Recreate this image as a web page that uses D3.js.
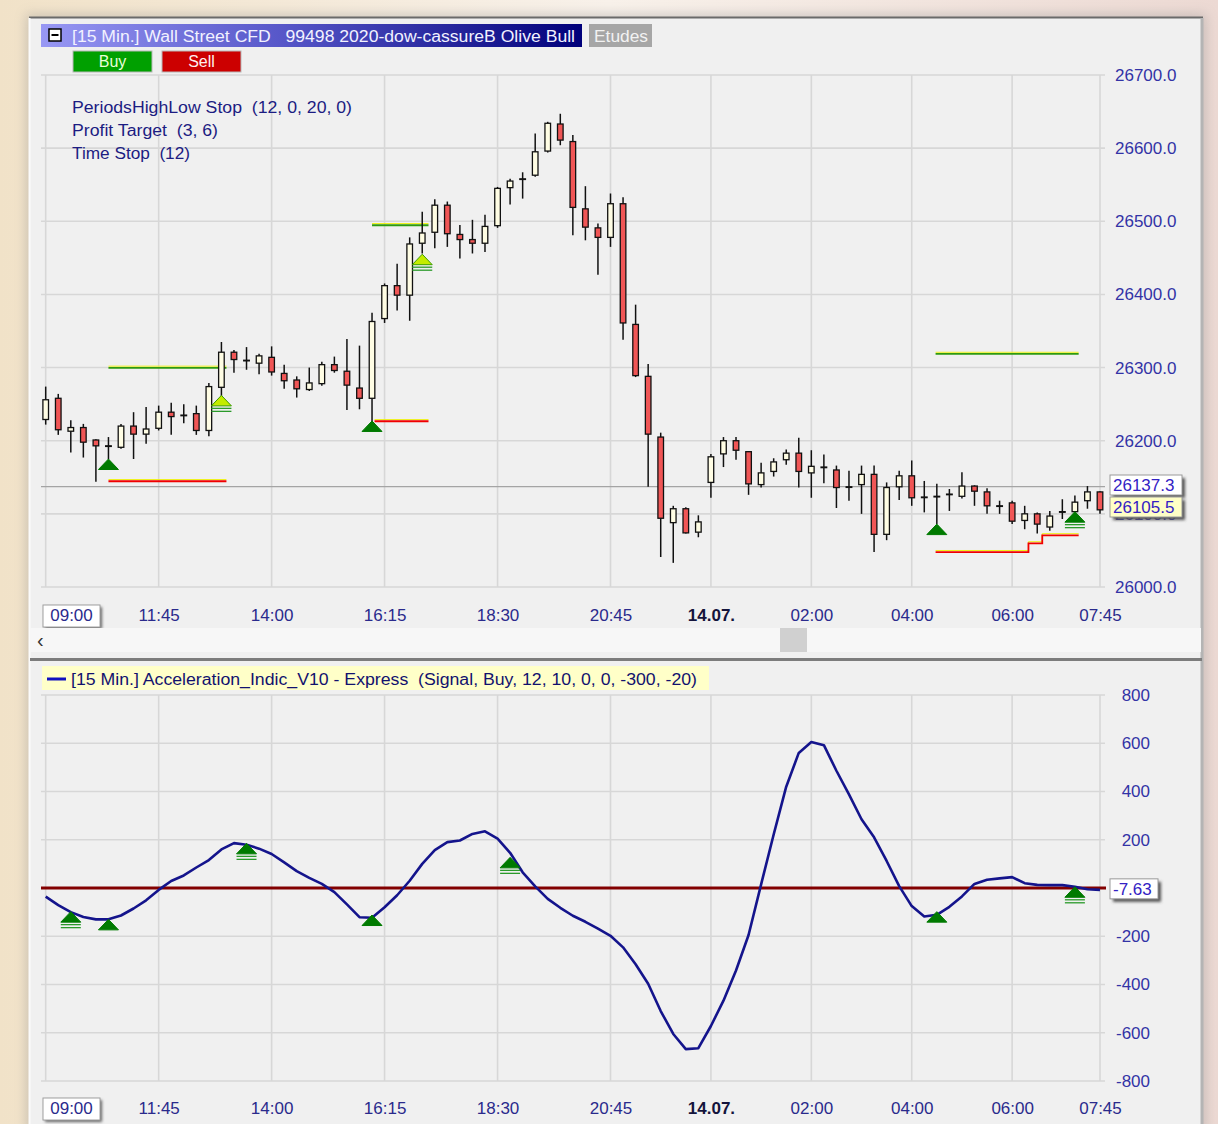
<!DOCTYPE html>
<html>
<head>
<meta charset="utf-8">
<script src="https://cdn.jsdelivr.net/npm/d3@7"></script>
<style>
  body { margin: 0; background: #f7f0e8; }
  svg { display: block; font-family: "Liberation Sans", Arial, sans-serif; }
</style>
</head>
<body>
<svg id="chart" width="1218" height="1124"></svg>
<script>
// 15 min bars, Wall Street CFD
const opens  = [26229,26258,26213,26218,26201,26193,26191,26220,26209,26217,26239,26235,26237,26214,26273,26321,26310,26306,26314,26292,
                26283,26270,26278,26304,26295,26272,26258,26367,26412,26399,26470,26485,26522,26482,26475,26470,26494,26546,26558,26563,
                26596,26633,26609,26517,26491,26478,26524,26359,26288,26205,26088,26107,26075,26143,26182,26200,26185,26140,26158,26174,
                26183,26156,26164,26160,26137,26140,26154,26072,26137,26152,26123,26124,26127,26124,26138,26130,26111,26115,26091,26100,
                26082,26103,26103,26118,26130];
const highs  = [26274,26264,26228,26223,26202,26205,26223,26239,26246,26248,26252,26250,26248,26279,26335,26324,26328,26319,26329,26304,
                26288,26300,26308,26315,26339,26330,26375,26415,26442,26478,26513,26530,26527,26495,26502,26509,26547,26558,26567,26620,
                26636,26647,26618,26548,26497,26538,26533,26386,26305,26211,26111,26109,26098,26182,26205,26205,26185,26170,26176,26188,
                26204,26187,26181,26166,26159,26166,26166,26143,26159,26173,26145,26141,26134,26157,26139,26135,26118,26118,26111,26102,
                26104,26120,26125,26138,26131];
const lows   = [26222,26208,26184,26177,26144,26175,26189,26175,26196,26214,26208,26224,26208,26206,26255,26293,26297,26291,26289,26271,
                26259,26268,26275,26293,26242,26243,26214,26361,26378,26364,26456,26463,26465,26449,26456,26458,26491,26523,26531,26561,
                26594,26604,26481,26474,26427,26465,26338,26287,26137,26041,26033,26073,26068,26122,26164,26174,26126,26136,26151,26167,
                26136,26122,26142,26108,26118,26100,26048,26064,26119,26111,26102,26086,26104,26121,26111,26100,26100,26086,26079,26073,
                26077,26093,26102,26107,26100];
const closes = [26256,26215,26218,26198,26193,26193,26220,26209,26216,26239,26233,26235,26214,26274,26321,26311,26310,26316,26294,26282,
                26271,26279,26304,26296,26276,26258,26363,26412,26399,26469,26484,26522,26483,26475,26470,26493,26545,26555,26558,26595,
                26634,26611,26519,26492,26478,26524,26361,26289,26209,26094,26107,26074,26089,26178,26200,26187,26141,26156,26171,26183,
                26158,26165,26164,26136,26137,26154,26072,26136,26152,26122,26123,26124,26127,26138,26131,26111,26111,26090,26100,26086,
                26097,26103,26116,26130,26105.5];

// Acceleration_Indic_V10 values, one per bar
const accel = [-36,-71,-100,-120,-130,-130,-114,-85,-51,-8,
               29,52,85,116,160,186,179,163,141,106,
               70,42,17,-17,-68,-121,-123,-80,-30,30,
               100,157,190,197,224,235,205,146,65,7,
               -45,-82,-115,-140,-168,-198,-246,-316,-397,-510,
               -605,-668,-664,-572,-467,-342,-195,15,222,420,
               560,605,592,486,388,285,210,112,8,-75,
               -118,-111,-78,-35,17,34,40,45,20,13,
               12,12,5,-5,-7.63];

const timeTicks  = [0, 9, 18, 27, 36, 45, 53, 61, 69, 77, 84];
const timeLabels = ['09:00','11:45','14:00','16:15','18:30','20:45','14.07.','02:00','04:00','06:00','07:45'];
const priceTicks = [26000, 26100, 26200, 26300, 26400, 26500, 26600, 26700];
const accelTicks = [-800, -600, -400, -200, 0, 200, 400, 600, 800];

// strategy signals on price panel: bar, price at arrow tip, kind
const sigBars   = [5, 14, 26, 30, 71, 82];
const sigPrices = [26175, 26262, 26227, 26455, 26086, 26103];
const sigKinds  = ['g', 'l2', 'g', 'l2', 'g', 'g2'];
// signals on indicator panel
const aSigBars   = [2, 5, 16, 26, 37, 71, 82];
const aSigValues = [-98, -130, 185, -112, 127, -98, 5];
const aSigKinds  = ['g2', 'g', 'g2', 'g', 'g2', 'g', 'g2'];

// profit target and stop lines: [bar, price] steps
const targets = [[[5, 26300], [14.4, 26300]], [[26, 26495], [30.5, 26495]], [[70.9, 26319], [82.3, 26319]]];
const stops   = [[[5, 26145], [14.4, 26145]], [[26.2, 26227], [30.5, 26227]],
                 [[70.9, 26048], [78.3, 26060], [79.4, 26071], [82.3, 26071]]];

const lastPrice = 26137.3;
const lastAccel = -7.63;

const svg = d3.select('#chart');
const defs = svg.append('defs');

const bgGrad = defs.append('linearGradient').attr('id', 'bg').attr('x1', 0).attr('x2', 1);
bgGrad.append('stop').attr('offset', 0).attr('stop-color', '#f1e2c8');
bgGrad.append('stop').attr('offset', 0.5).attr('stop-color', '#f8f1ea');
bgGrad.append('stop').attr('offset', 1).attr('stop-color', '#ecd9d3');

const titleGrad = defs.append('linearGradient').attr('id', 'title').attr('x1', 0).attr('x2', 1);
titleGrad.append('stop').attr('offset', 0).attr('stop-color', '#9898f4');
titleGrad.append('stop').attr('offset', 0.45).attr('stop-color', '#5656c8');
titleGrad.append('stop').attr('offset', 1).attr('stop-color', '#00007a');

const blur = defs.append('filter').attr('id', 'blur').attr('x', -0.2).attr('y', -0.2).attr('width', 1.4).attr('height', 1.4);
blur.append('feGaussianBlur').attr('stdDeviation', 1.6);
const wblur = defs.append('filter').attr('id', 'wblur').attr('x', -0.05).attr('y', -0.05).attr('width', 1.1).attr('height', 1.1);
wblur.append('feGaussianBlur').attr('stdDeviation', 6);

// page + window
svg.append('rect').attr('width', 1218).attr('height', 1124).attr('fill', 'url(#bg)');
svg.append('rect').attr('x', 26).attr('y', 14).attr('width', 1180).attr('height', 1120)
   .attr('fill', '#888').attr('opacity', 0.35).attr('filter', 'url(#wblur)');
svg.append('rect').attr('x', 29).attr('y', 17).attr('width', 1174).attr('height', 1110).attr('fill', '#f0f0f0');
svg.append('line').attr('x1', 29).attr('x2', 1203).attr('y1', 17.5).attr('y2', 17.5).attr('stroke', '#6a6a6a').attr('stroke-width', 2);
svg.append('line').attr('x1', 29.5).attr('x2', 29.5).attr('y1', 18).attr('y2', 1124).attr('stroke', '#fbfbfb').attr('stroke-width', 2);
svg.append('line').attr('x1', 1202).attr('x2', 1202).attr('y1', 18).attr('y2', 1124).attr('stroke', '#b4b4b4').attr('stroke-width', 3);

// scales
const x = d3.scaleLinear().domain([0, 84]).range([45.7, 1100]);
const yP = d3.scaleLinear().domain([26000, 26700]).range([587, 75]);
const yA = d3.scaleLinear().domain([-800, 800]).range([1081, 695]);

function drawGrid(yScale, yVals, top, bottom) {
  const g = svg.append('g');
  g.selectAll('.hg').data(yVals).join('line')
    .attr('x1', 41).attr('x2', 1105)
    .attr('y1', d => yScale(d)).attr('y2', d => yScale(d))
    .attr('stroke', '#d7d7d7').attr('stroke-width', 1.6);
  g.selectAll('.vg').data(timeTicks).join('line')
    .attr('x1', d => x(d)).attr('x2', d => x(d))
    .attr('y1', top).attr('y2', bottom)
    .attr('stroke', '#d7d7d7').attr('stroke-width', 1.6);
}

function timeAxis(yPos) {
  const ax = svg.append('g').attr('transform', `translate(0,${yPos})`)
    .call(d3.axisBottom(x).tickValues(timeTicks).tickFormat((d, i) => timeLabels[i]).tickSize(0).tickPadding(0));
  ax.select('.domain').remove();
  ax.selectAll('text').attr('font-size', 17)
    .attr('font-family', '"Liberation Sans", Arial, sans-serif')
    .attr('font-weight', (d, i) => timeLabels[i] === '14.07.' ? 'bold' : null)
    .attr('fill', (d, i) => timeLabels[i] === '14.07.' ? '#14143c' : '#2a2a8c');
  // first label sits in a small box
  const first = ax.select('.tick');
  first.insert('rect', 'text').attr('x', -28.5).attr('y', -4).attr('width', 57).attr('height', 22)
    .attr('fill', '#666').attr('filter', 'url(#blur)').attr('transform', 'translate(2,2)');
  first.insert('rect', 'text').attr('x', -28.5).attr('y', -4).attr('width', 57).attr('height', 22)
    .attr('fill', '#fff').attr('stroke', '#a0a0a0');
  first.attr('transform', 'translate(71.5,0)');
}

function boxLabel(xPos, yCenter, w, txt, fill) {
  svg.append('rect').attr('x', xPos + 3).attr('y', yCenter - 10 + 3).attr('width', w).attr('height', 20)
    .attr('fill', '#555').attr('filter', 'url(#blur)');
  svg.append('rect').attr('x', xPos).attr('y', yCenter - 10).attr('width', w).attr('height', 20)
    .attr('fill', fill).attr('stroke', '#9a9a9a');
  svg.append('text').attr('x', xPos + 3).attr('y', yCenter + 6).attr('font-size', 17)
    .attr('fill', '#3322c4').text(txt);
}

function triangle(g, cx, ty, kind) {
  const fill = kind[0] === 'l' ? '#c4ec00' : '#007a00';
  g.append('path').attr('d', `M${cx},${ty} L${cx + 10},${ty + 10.5} L${cx - 10},${ty + 10.5} Z`)
    .attr('fill', fill).attr('stroke', kind[0] === 'l' ? '#3c9c00' : '#007a00').attr('stroke-width', 1);
  if (kind.endsWith('2')) {
    [13, 16].forEach(o => g.append('line').attr('x1', cx - 10).attr('x2', cx + 10)
      .attr('y1', ty + o).attr('y2', ty + o).attr('stroke', '#2a9a2a').attr('stroke-width', 1.3));
  }
}

// ---------- header ----------
svg.append('rect').attr('x', 41).attr('y', 24).attr('width', 541).attr('height', 23).attr('fill', 'url(#title)');
svg.append('rect').attr('x', 49).attr('y', 29).attr('width', 12).attr('height', 12).attr('fill', '#fff')
   .attr('stroke', '#000').attr('stroke-width', 1.5);
svg.append('line').attr('x1', 51.5).attr('x2', 58.5).attr('y1', 35).attr('y2', 35).attr('stroke', '#000').attr('stroke-width', 2);
svg.append('text').attr('x', 72).attr('y', 42).attr('font-size', 16).attr('fill', '#f2f2ff')
   .attr('textLength', 503).attr('lengthAdjust', 'spacingAndGlyphs')
   .attr('xml:space', 'preserve').text('[15 Min.] Wall Street CFD   99498 2020-dow-cassureB Olive Bull');
svg.append('rect').attr('x', 589).attr('y', 24).attr('width', 63).attr('height', 23).attr('fill', '#a6a6a6');
svg.append('text').attr('x', 594).attr('y', 42).attr('font-size', 16).attr('fill', '#f2f2f2')
   .attr('textLength', 54).attr('lengthAdjust', 'spacingAndGlyphs').text('Etudes');

[['Buy', 73, '#00a000', '#e8ffd8'], ['Sell', 162, '#cc0000', '#fff0f0']].forEach(([t, bx, c, tc]) => {
  svg.append('rect').attr('x', bx).attr('y', 51).attr('width', 79).attr('height', 21).attr('fill', c)
     .attr('stroke', '#b8b8b8').attr('stroke-width', 1);
  svg.append('text').attr('x', bx + 39.5).attr('y', 67).attr('text-anchor', 'middle').attr('font-size', 16)
     .attr('fill', tc).text(t);
});

// ---------- price panel ----------
drawGrid(yP, priceTicks, 75, 587);
svg.append('line').attr('x1', 41).attr('x2', 1105).attr('y1', yP(lastPrice)).attr('y2', yP(lastPrice))
   .attr('stroke', '#a4a4a4').attr('stroke-width', 1.2);

const strat = ['PeriodsHighLow Stop  (12, 0, 20, 0)', 'Profit Target  (3, 6)', 'Time Stop  (12)'];
const stratW = [280, 146, 118];
svg.selectAll('.strat').data(strat).join('text')
   .attr('x', 72).attr('y', (d, i) => 113 + i * 23).attr('font-size', 16).attr('fill', '#1c1c82')
   .attr('textLength', (d, i) => stratW[i]).attr('lengthAdjust', 'spacingAndGlyphs')
   .attr('xml:space', 'preserve').text(d => d);

// target / stop lines with their thin yellow edge
const stepLine = d3.line().x(d => x(d[0])).y(d => yP(d[1])).curve(d3.curveStepAfter);
const lvl = svg.append('g').attr('fill', 'none');
targets.forEach(t => {
  lvl.append('path').attr('d', stepLine(t)).attr('stroke', '#eef000').attr('stroke-width', 0.9).attr('transform', 'translate(0,-1.4)');
  lvl.append('path').attr('d', stepLine(t)).attr('stroke', '#2e9a10').attr('stroke-width', 1.8).attr('transform', 'translate(0,0.3)');
});
stops.forEach(t => {
  lvl.append('path').attr('d', stepLine(t)).attr('stroke', '#eef000').attr('stroke-width', 0.9).attr('transform', 'translate(0,-1.4)');
  lvl.append('path').attr('d', stepLine(t)).attr('stroke', '#f00000').attr('stroke-width', 1.8).attr('transform', 'translate(0,0.3)');
});

// candles
const idx = d3.range(opens.length);
const cg = svg.append('g');
cg.selectAll('.wick').data(idx).join('line')
  .attr('x1', i => x(i)).attr('x2', i => x(i))
  .attr('y1', i => yP(highs[i])).attr('y2', i => yP(lows[i]))
  .attr('stroke', '#111').attr('stroke-width', 1.5);
cg.selectAll('.body').data(idx).join('rect')
  .attr('x', i => x(i) - 2.8).attr('width', 5.6)
  .attr('y', i => yP(Math.max(opens[i], closes[i])))
  .attr('height', i => Math.max(0.6, Math.abs(yP(opens[i]) - yP(closes[i]))))
  .attr('fill', i => closes[i] > opens[i] ? '#fffde4' : closes[i] < opens[i] ? '#f05656' : '#111')
  .attr('stroke', '#111').attr('stroke-width', 1.3);

const sg = svg.append('g');
sigBars.forEach((b, k) => triangle(sg, x(b), yP(sigPrices[k]), sigKinds[k]));

// price axis
const pa = svg.append('g').attr('transform', 'translate(1115,0)')
  .call(d3.axisRight(yP).tickValues(priceTicks).tickFormat(d3.format('.1f')).tickSize(0).tickPadding(0));
pa.select('.domain').remove();
pa.selectAll('text').attr('font-size', 17).attr('fill', '#3333a6').attr('font-family', '"Liberation Sans", Arial, sans-serif');

boxLabel(1110, 485, 72, lastPrice.toFixed(1), '#ffffff');
boxLabel(1110, 507, 72, closes[closes.length - 1].toFixed(1), '#ffffc6');

timeAxis(609);

// scroll bar
svg.append('rect').attr('x', 30).attr('y', 628).attr('width', 1171).attr('height', 24).attr('fill', '#f7f7f7');
svg.append('text').attr('x', 37).attr('y', 647).attr('font-size', 20).attr('fill', '#333').text('‹');
svg.append('rect').attr('x', 780).attr('y', 628).attr('width', 27).attr('height', 24).attr('fill', '#d0d0d0');

// splitter
svg.append('rect').attr('x', 30).attr('y', 658).attr('width', 1172).attr('height', 3).attr('fill', '#7c7c7c');

// ---------- indicator panel ----------
drawGrid(yA, accelTicks.filter(v => v !== 0), 695, 1081);

svg.append('rect').attr('x', 42).attr('y', 666).attr('width', 667).attr('height', 24).attr('fill', '#ffffc8');
svg.append('line').attr('x1', 47).attr('x2', 66).attr('y1', 679).attr('y2', 679).attr('stroke', '#1010c0').attr('stroke-width', 3);
svg.append('text').attr('x', 71).attr('y', 685).attr('font-size', 16).attr('fill', '#12126e')
   .attr('textLength', 626).attr('lengthAdjust', 'spacingAndGlyphs').attr('xml:space', 'preserve')
   .text('[15 Min.] Acceleration_Indic_V10 - Express  (Signal, Buy, 12, 10, 0, 0, -300, -20)');

svg.append('line').attr('x1', 41).attr('x2', 1106).attr('y1', yA(0)).attr('y2', yA(0))
   .attr('stroke', '#820000').attr('stroke-width', 3);

const accLine = d3.line().x((d, i) => x(i)).y(d => yA(d));
svg.append('path').datum(accel).attr('d', accLine).attr('fill', 'none')
   .attr('stroke', '#14148c').attr('stroke-width', 2.6).attr('stroke-linejoin', 'round');

const ag = svg.append('g');
aSigBars.forEach((b, k) => triangle(ag, x(b), yA(aSigValues[k]), aSigKinds[k]));

// zero label is covered by the last-value box, so it is left out
const aa = svg.append('g').attr('transform', 'translate(1150,0)')
  .call(d3.axisRight(yA).tickValues(accelTicks.filter(v => v !== 0)).tickFormat(d => String(d)).tickSize(0).tickPadding(0));
aa.select('.domain').remove();
aa.selectAll('text').attr('font-size', 17).attr('fill', '#3333a6').attr('text-anchor', 'end')
  .attr('font-family', '"Liberation Sans", Arial, sans-serif');

boxLabel(1110, yA(lastAccel) - 1, 48, lastAccel.toFixed(2), '#ffffff');

timeAxis(1102);
</script>
</body>
</html>
